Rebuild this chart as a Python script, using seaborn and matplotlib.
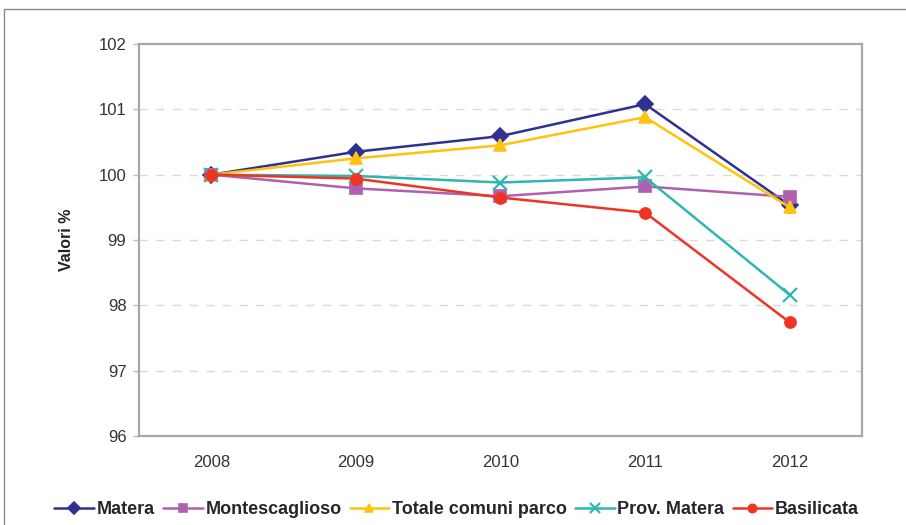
import matplotlib
matplotlib.use("Agg")
import matplotlib.pyplot as plt
import seaborn as sns
import pandas as pd
from matplotlib.patches import Rectangle

years = [2008, 2009, 2010, 2011, 2012]
matera = [100.0, 100.35, 100.59, 101.08, 99.53]
montescaglioso = [100.0, 99.79, 99.67, 99.82, 99.66]
totale_parco = [100.0, 100.25, 100.45, 100.88, 99.50]
prov_matera = [100.0, 99.98, 99.88, 99.96, 98.16]
basilicata = [100.0, 99.94, 99.65, 99.42, 97.74]

series_names = ["Matera", "Montescaglioso", "Totale comuni parco", "Prov. Matera", "Basilicata"]
series_values = [matera, montescaglioso, totale_parco, prov_matera, basilicata]
colors = ["#2E3192", "#B060B0", "#FFC20E", "#2DB7B2", "#EE3524"]
markers = ["D", "s", "^", "x", "o"]

sns.set_theme(style="white")
plt.rcParams["font.family"] = ["Liberation Sans", "DejaVu Sans"]

fig = plt.figure(figsize=(9.06, 5.25), dpi=100)
ax = fig.add_axes([0.1534, 0.1695, 0.798, 0.7467])

for name, vals, col, mk in zip(series_names, series_values, colors, markers):
    df = pd.DataFrame({"Anno": years, "Valore": vals})
    kw = dict(markeredgecolor=col, markersize=8, markeredgewidth=1.2)
    if mk == "x":
        kw = dict(markeredgecolor=col, markersize=10, markeredgewidth=1.6)
    sns.lineplot(data=df, x="Anno", y="Valore", color=col, marker=mk,
                 linewidth=1.8, label=name, ax=ax, **kw)

ax.set_xlim(2007.5, 2012.5)
ax.set_ylim(96, 102)
ax.set_xticks(years)
ax.set_xticklabels([str(y) for y in years])
ax.set_yticks([96, 97, 98, 99, 100, 101, 102])
for v in [97, 98, 99, 100, 101]:
    ax.axhline(v, color="#DADADA", linestyle=(0, (6, 6)), linewidth=1.0, zorder=0)

ax.set_xlabel("")
ax.set_ylabel("Valori %", fontsize=11.5, fontweight="bold", color="#222222", labelpad=18)
ax.tick_params(axis="y", left=True, length=4, width=1, color="#BBBBBB",
               labelsize=12, labelcolor="#333333", pad=5)
ax.tick_params(axis="x", bottom=False, labelsize=12, labelcolor="#333333", pad=8)
for s in ax.spines.values():
    s.set_color("#A8A8A8")
    s.set_linewidth(1.6)

handles, labels = ax.get_legend_handles_labels()
ax.legend_.remove()
fig.legend(handles, labels, loc="center", bbox_to_anchor=(0.504, 0.029), ncol=5,
           frameon=False, prop={"weight": "bold", "size": 13}, handlelength=2.2,
           handletextpad=0.15, columnspacing=0.45, borderpad=0.2, markerscale=0.75)

fig.add_artist(Rectangle((4 / 906, -0.1), 1.2, 1 - 9 / 525 + 0.1,
                         transform=fig.transFigure, fill=False,
                         edgecolor="#8A8A8A", linewidth=1.0))

fig.savefig("out.png", dpi=100)
